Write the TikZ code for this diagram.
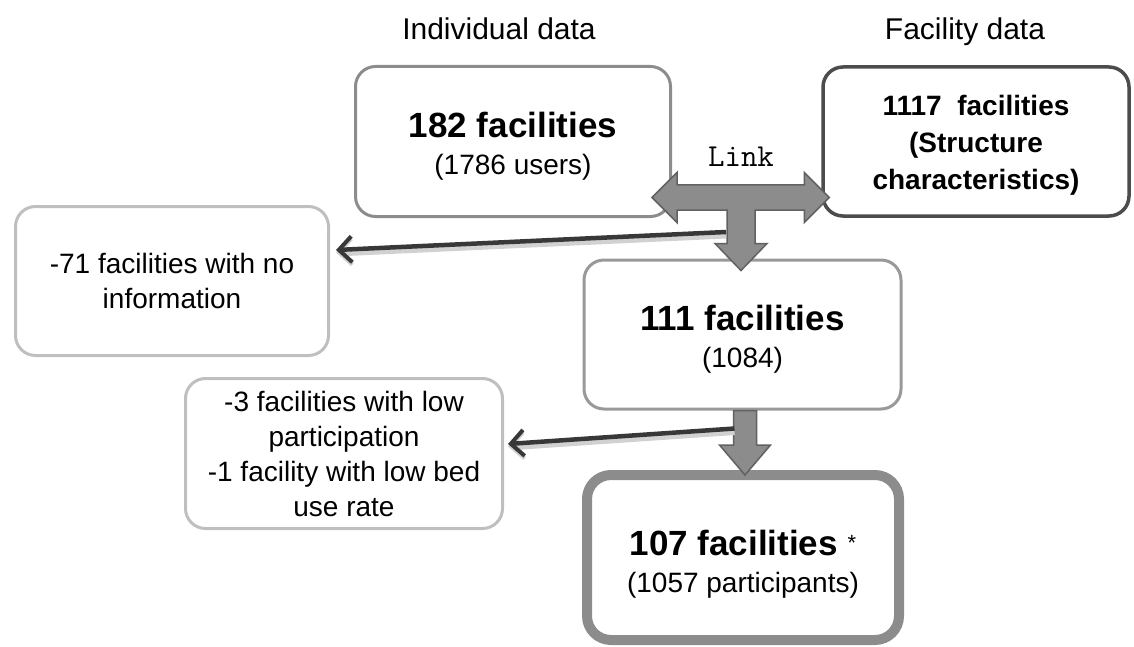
\documentclass[tikz,border=0pt]{standalone}
\usepackage{fontspec}
\setmainfont{Liberation Sans}
\usetikzlibrary{arrows.meta,calc}
\tikzset{
  % rounded box for a step of the flow
  box/.style = {
    draw,
    rounded corners = 20pt,
    align = center,
    inner sep = 0pt,
    font = \fontsize{28}{35}\selectfont
  },
  % column heading
  heading/.style = {
    font = \fontsize{30}{30}\selectfont,
    anchor = base
  },
  % wide grey arrow drawn as a filled outline
  fatarrow/.style = {
    fill = black!45,
    draw = black!62,
    line width = 1.5pt,
    line join = miter
  },
  % thin arrow to an exclusion box
  thinarr/.style = {
    draw = black!78,
    line width = 4.5pt,
    -{Straight Barb[length=13pt,width=26pt,line width=4pt]},
    preaction = {
      draw = black!18,
      line width = 8pt,
      transform canvas = {yshift=-2.5pt}
    }
  }
}
% strut that pushes the first line of a box down
\newcommand{\toppad}[1]{\rule{0pt}{#1}}

\begin{document}
\begin{tikzpicture}[x=1pt,y=-1pt]
  \useasboundingbox (0,0) rectangle (1134,647);

  \node[heading] (indtitle) at (499,40) {Individual data};
  \node[heading] (factitle) at (965,40) {Facility data};

  \node[box, draw=black!45, line width=3pt,
        minimum width=315pt, minimum height=150pt] (ind) at (513,141.5)
    {{\bfseries\fontsize{35}{40}\selectfont\toppad{35pt}182 facilities}\\[2pt] (1786 users)};
  \node[box, draw=black!70, line width=3.5pt,
        font=\bfseries\fontsize{28}{37}\selectfont,
        minimum width=306pt, minimum height=149pt] (fac) at (976,141.5)
    {\toppad{28pt}1117~ facilities\\ (Structure\\ characteristics)};
  \node[box, draw=black!25, line width=3pt,
        minimum width=313pt, minimum height=149pt] (nodata) at (172,281)
    {-71 facilities with no\\ information};
  \node[box, draw=black!40, line width=3pt,
        minimum width=317pt, minimum height=149pt] (linked) at (742.5,334.5)
    {{\bfseries\fontsize{35}{40}\selectfont\toppad{35pt}111 facilities}\\[2pt] (1084)};
  \node[box, draw=black!25, line width=3pt,
        minimum width=317pt, minimum height=150pt] (lowpart) at (344,453.5)
    {-3 facilities with low\\ participation\\ -1 facility with low bed\\ use rate};
  \node[box, draw=black!45, line width=10pt, rounded corners=24pt,
        minimum width=312pt, minimum height=165pt] (final) at (743,557.5)
    {{\bfseries\fontsize{35}{40}\selectfont\toppad{39pt}107 facilities
      \raisebox{5pt}{\mdseries\fontsize{22}{22}\selectfont *}}\\[2pt] (1057 participants)};

  \node[font=\ttfamily\fontsize{32}{32}\selectfont] (linklbl) at (741,157) {Link};

  % link between the two sources, and down to the linked set
  \coordinate (junc) at (741,197.5);
  \coordinate (ltip) at ($(ind.east |- junc)+(-20,0)$);
  \coordinate (rtip) at ($(fac.west |- junc)+(8,0)$);
  \coordinate (dtip) at ($(linked.north -| junc)+(0,12)$);

  \draw[fatarrow]
    (ltip) -- ++(25,-25) -- ++(0,12.5)
    -- ($(rtip)+(-25,-12.5)$) -- ++(0,-12.5) -- (rtip)
    -- ++(-25,25) -- ++(0,-12.5)
    -- ($(junc)+(14,12.5)$) -- ($(dtip)+(14,-27)$) -- ++(12,0) -- (dtip)
    -- ++(-26,-27) -- ++(12,0) -- ($(junc)+(-14,12.5)$)
    -- ($(ltip)+(25,12.5)$) -- ++(0,12.5) -- cycle;

  \draw[fatarrow]
    ($(linked.south)+(-9,0)$) -- ++(23,0)
    -- ($(final.north)+(13.5,-25)$) -- ++(14,0)
    -- ($(final.north)+(2,5)$)
    -- ++(-25.5,-30) -- ++(14,0) -- cycle;

  % exclusions
  \draw[thinarr] ($(junc)+(-15,34.5)$) -- ($(nodata.east)+(6,-31)$);
  \draw[thinarr] ($(linked.south)+(-8,18)$) -- ($(lowpart.east)+(4,-9.5)$);
\end{tikzpicture}
\end{document}
